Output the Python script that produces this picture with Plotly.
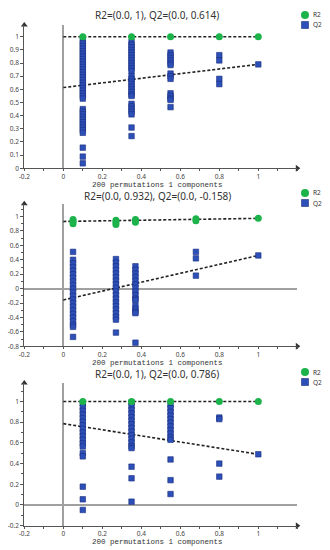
import plotly.graph_objects as go

# ---------------- data ----------------
titles = ["R2=(0.0, 1), Q2=(0.0, 0.614)",
          "R2=(0.0, 0.932), Q2=(0.0, -0.158)",
          "R2=(0.0, 1), Q2=(0.0, 0.786)"]
xlabel = "200 permutations 1 components"
legend_names = ["R2", "Q2"]

# panel 1
p1_r2_x = [0.1, 0.35, 0.55, 0.8, 1.0]
p1_r2_y = [1.0, 1.0, 1.0, 1.0, 1.0]
p1_q2_x = ([0.1] * 36) + ([0.35] * 28) + ([0.55] * 14) + ([0.8] * 4) + [1.0]
p1_q2_y = [0.97, 0.95, 0.93, 0.91, 0.89, 0.87, 0.85, 0.83, 0.81, 0.79, 0.77, 0.75,
           0.73, 0.71, 0.69, 0.67, 0.65, 0.63, 0.61, 0.59, 0.57, 0.55, 0.53,
           0.45, 0.43, 0.41, 0.39, 0.37, 0.35, 0.33, 0.31, 0.29, 0.27,
           0.157, 0.089, 0.038,
           0.96, 0.94, 0.92, 0.90, 0.88, 0.86, 0.84, 0.82, 0.80, 0.78, 0.76, 0.74,
           0.70, 0.68, 0.66, 0.64, 0.62, 0.60, 0.58, 0.56, 0.55,
           0.49, 0.47, 0.45, 0.43, 0.41, 0.31, 0.245,
           0.88, 0.86, 0.84, 0.82, 0.80, 0.785, 0.72, 0.70, 0.68,
           0.57, 0.55, 0.53, 0.52, 0.465,
           0.86, 0.82, 0.68, 0.64,
           0.79]
p1_r2_line = [1.0, 1.0]
p1_q2_line = [0.614, 0.79]

# panel 2
p2_r2_x = [0.05, 0.05, 0.05, 0.27, 0.27, 0.27, 0.37, 0.37, 0.37, 0.68, 0.68, 1.0]
p2_r2_y = [0.96, 0.93, 0.90, 0.95, 0.92, 0.89, 0.96, 0.94, 0.92, 0.97, 0.94, 0.975]
p2_q2_x = ([0.05] * 22) + ([0.27] * 19) + ([0.37] * 16) + ([0.68] * 3) + [1.0]
p2_q2_y = [0.51, 0.40, 0.35, 0.30, 0.25, 0.20, 0.15, 0.10, 0.05, 0.00, -0.05, -0.10,
           -0.15, -0.20, -0.25, -0.30, -0.35, -0.40, -0.45, -0.50, -0.53, -0.67,
           0.41, 0.36, 0.31, 0.26, 0.21, 0.16, 0.11, 0.06, 0.01, -0.04, -0.09, -0.14,
           -0.19, -0.24, -0.29, -0.34, -0.39, -0.43, -0.61,
           0.31, 0.26, 0.21, 0.16, 0.11, 0.06, 0.01, -0.04, -0.09, -0.14, -0.16,
           -0.24, -0.28, -0.32, -0.34, -0.75,
           0.51, 0.42, 0.18,
           0.46]
p2_r2_line = [0.932, 0.975]
p2_q2_line = [-0.158, 0.46]

# panel 3
p3_r2_x = [0.1, 0.35, 0.55, 0.8, 1.0]
p3_r2_y = [1.0, 1.0, 1.0, 1.0, 1.0]
p3_q2_x = ([0.1] * 18) + ([0.35] * 17) + ([0.55] * 14) + ([0.8] * 4) + [1.0]
p3_q2_y = [0.98, 0.945, 0.91, 0.875, 0.84, 0.805, 0.77, 0.735, 0.70, 0.665, 0.63,
           0.595, 0.565, 0.50, 0.47, 0.177, 0.055, -0.048,
           0.99, 0.955, 0.92, 0.885, 0.85, 0.815, 0.78, 0.745, 0.71, 0.675, 0.64,
           0.605, 0.57, 0.55, 0.37, 0.258, 0.032,
           0.97, 0.935, 0.90, 0.865, 0.83, 0.795, 0.76, 0.725, 0.69, 0.655, 0.63,
           0.44, 0.24, 0.106,
           0.845, 0.83, 0.40, 0.274,
           0.49]
p3_r2_line = [1.0, 1.0]
p3_q2_line = [0.786, 0.49]

line_x = [0.0, 1.0]
x_ticks = [-0.2, 0, 0.2, 0.4, 0.6, 0.8, 1.0]
x_ticktext = ["-0.2", "0", "0.2", "0.4", "0.6", "0.8", "1"]
y1_ticks = [0, 0.1, 0.2, 0.3, 0.4, 0.5, 0.6, 0.7, 0.8, 0.9, 1.0]
y1_text = ["0", "0.1", "0.2", "0.3", "0.4", "0.5", "0.6", "0.7", "0.8", "0.9", "1"]
y2_ticks = [-0.8, -0.6, -0.4, -0.2, 0, 0.2, 0.4, 0.6, 0.8, 1.0]
y2_text = ["-0.8", "-0.6", "-0.4", "-0.2", "0", "0.2", "0.4", "0.6", "0.8", "1"]
y3_ticks = [-0.2, 0, 0.2, 0.4, 0.6, 0.8, 1.0]
y3_text = ["-0.2", "0", "0.2", "0.4", "0.6", "0.8", "1"]

panels = [
    dict(r2x=p1_r2_x, r2y=p1_r2_y, q2x=p1_q2_x, q2y=p1_q2_y, r2l=p1_r2_line, q2l=p1_q2_line,
         yr=[0.0, 1.09], yt=y1_ticks, ytt=y1_text, ydom=[0.694, 0.9547], minor=None),
    dict(r2x=p2_r2_x, r2y=p2_r2_y, q2x=p2_q2_x, q2y=p2_q2_y, r2l=p2_r2_line, q2l=p2_q2_line,
         yr=[-0.8, 1.178], yt=y2_ticks, ytt=y2_text, ydom=[0.3704, 0.6296], minor=0.1),
    dict(r2x=p3_r2_x, r2y=p3_r2_y, q2x=p3_q2_x, q2y=p3_q2_y, r2l=p3_r2_line, q2l=p3_q2_line,
         yr=[-0.2, 1.178], yt=y3_ticks, ytt=y3_text, ydom=[0.0442, 0.3035], minor=0.1),
]

GREEN = "#1cb34a"
BLUE = "#2d4fb8"
BLUE_EDGE = "#1a2f80"
AX = "#555555"
XR = [-0.2, 1.2]
XDOM = [0.0736, 0.9009]
W, H = 330, 550

fig = go.Figure()
layout = {}
annotations = []
shapes = []

title_y = [15, 196, 373.5]
xlab_y = [184.5, 362.5, 541.5]
leg_y = [15, 193, 372]
LEG_X = 305


def px(xp):
    return xp / W


def py(yp):
    return 1 - yp / H


for i, p in enumerate(panels):
    n = "" if i == 0 else str(i + 1)
    xa, ya = "x" + n, "y" + n
    # regression lines
    for yl in (p["r2l"], p["q2l"]):
        fig.add_trace(go.Scatter(x=line_x, y=yl, mode="lines", xaxis=xa, yaxis=ya,
                                 line=dict(color="#222222", width=1.6, dash="3px,2px"),
                                 showlegend=False, hoverinfo="skip"))
    fig.add_trace(go.Scatter(x=p["q2x"], y=p["q2y"], mode="markers", name="Q2",
                             xaxis=xa, yaxis=ya, cliponaxis=False, showlegend=False,
                             marker=dict(symbol="square", size=5.5, color=BLUE,
                                         line=dict(color=BLUE_EDGE, width=0.6))))
    fig.add_trace(go.Scatter(x=p["r2x"], y=p["r2y"], mode="markers", name="R2",
                             xaxis=xa, yaxis=ya, cliponaxis=False, showlegend=False,
                             marker=dict(symbol="circle", size=7, color=GREEN,
                                         line=dict(width=0))))
    # axis arrows
    fig.add_trace(go.Scatter(x=[XR[0]], y=[p["yr"][1]], mode="markers", xaxis=xa, yaxis=ya,
                             cliponaxis=False, showlegend=False, hoverinfo="skip",
                             marker=dict(symbol="triangle-up", size=6, color="#333333")))
    fig.add_trace(go.Scatter(x=[XR[1]], y=[p["yr"][0]], mode="markers", xaxis=xa, yaxis=ya,
                             cliponaxis=False, showlegend=False, hoverinfo="skip",
                             marker=dict(symbol="triangle-right", size=6, color="#333333")))

    xkey = "xaxis" + n
    ykey = "yaxis" + n
    layout[xkey] = dict(domain=XDOM, range=XR, anchor=ya, showgrid=False, automargin=False,
                        zeroline=True, zerolinecolor="#a0a0a0", zerolinewidth=1.5,
                        showline=True, linecolor=AX, linewidth=1,
                        tickvals=x_ticks, ticktext=x_ticktext, ticks="outside",
                        ticklen=2, tickcolor=AX, tickfont=dict(size=6.5, color="#444444",
                                                               family="Noto Sans"),
                        minor=dict(dtick=0.1, tick0=0, ticks="outside", ticklen=2,
                                   tickcolor=AX))
    yk = dict(domain=p["ydom"], range=p["yr"], anchor=xa, showgrid=False, automargin=False,
              zeroline=True, zerolinecolor="#a0a0a0", zerolinewidth=1.5,
              showline=True, linecolor=AX, linewidth=1,
              tickvals=p["yt"], ticktext=p["ytt"], ticks="outside", ticklen=3,
              tickcolor=AX, tickfont=dict(size=6.5, color="#444444", family="Noto Sans"))
    if p["minor"]:
        yk["minor"] = dict(dtick=p["minor"], tick0=0, ticks="outside", ticklen=2,
                           tickcolor=AX)
    layout[ykey] = yk

    annotations.append(dict(text=titles[i], xref="paper", yref="paper",
                            x=px(157), y=py(title_y[i]), showarrow=False,
                            xanchor="center", yanchor="middle",
                            font=dict(size=10, color="#333333", family="Noto Sans")))
    annotations.append(dict(text=xlabel, xref="paper", yref="paper",
                            x=px(157), y=py(xlab_y[i]), showarrow=False,
                            xanchor="center", yanchor="middle",
                            font=dict(size=7.5, color="#333333", family="Liberation Mono")))
    # legend (drawn as key shapes + labels)
    cy0 = leg_y[i]
    cy1 = leg_y[i] + 10
    shapes.append(dict(type="circle", xref="paper", yref="paper",
                       x0=px(LEG_X - 4), x1=px(LEG_X + 4), y0=py(cy0 + 4), y1=py(cy0 - 4),
                       fillcolor=GREEN, line=dict(width=0)))
    shapes.append(dict(type="rect", xref="paper", yref="paper",
                       x0=px(LEG_X - 3.5), x1=px(LEG_X + 3.5), y0=py(cy1 + 3.5),
                       y1=py(cy1 - 3.5), fillcolor=BLUE,
                       line=dict(width=0.6, color=BLUE_EDGE)))
    for name, yy in zip(legend_names, (cy0, cy1)):
        annotations.append(dict(text=name, xref="paper", yref="paper",
                                x=px(LEG_X + 6), y=py(yy), showarrow=False,
                                xanchor="left", yanchor="middle",
                                font=dict(size=6.5, color="#333333", family="Noto Sans")))

fig.update_layout(width=W, height=H, margin=dict(l=0, r=0, t=0, b=0),
                  paper_bgcolor="white", plot_bgcolor="white", showlegend=False,
                  annotations=annotations, shapes=shapes, **layout)

fig.write_html("out.html", config={"displayModeBar": False},
               post_script="document.body.style.margin='0px';"
                           "document.body.style.overflow='hidden';")
